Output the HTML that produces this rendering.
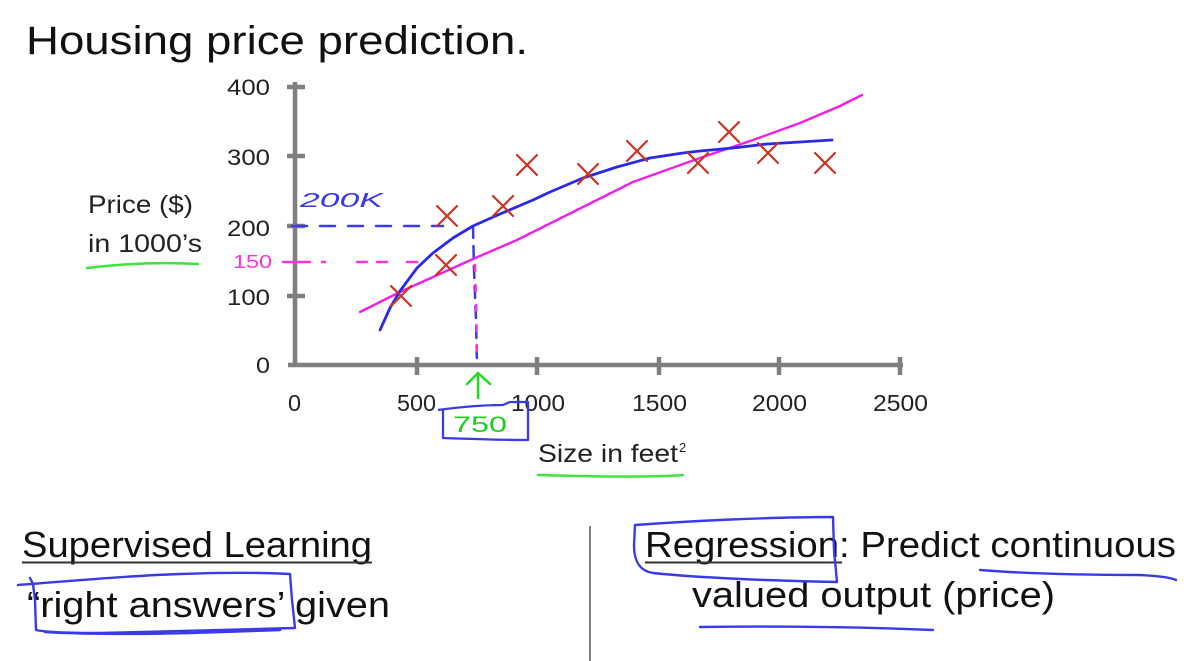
<!DOCTYPE html>
<html><head><meta charset="utf-8"><style>
html,body{margin:0;padding:0;background:#fff;}
svg{display:block;}
text{font-family:"Liberation Sans",sans-serif;}
</style></head><body>
<svg width="1198" height="661" viewBox="0 0 1198 661" xmlns="http://www.w3.org/2000/svg">
<rect width="1198" height="661" fill="#fff"/>
<!-- Title -->
<text x="26" y="54" font-size="40" fill="#111" textLength="502" lengthAdjust="spacingAndGlyphs">Housing price prediction.</text>

<!-- Axes -->
<g stroke="#7f7f7f" stroke-width="4.5" fill="none">
  <line x1="295" y1="82" x2="295" y2="367"/>
  <line x1="288" y1="365" x2="903" y2="365"/>
  <line x1="287" y1="87" x2="305" y2="87"/>
  <line x1="287" y1="156" x2="305" y2="156"/>
  <line x1="287" y1="226" x2="305" y2="226"/>
  <line x1="287" y1="296" x2="305" y2="296"/>
  <line x1="417" y1="357" x2="417" y2="375"/>
  <line x1="537" y1="357" x2="537" y2="375"/>
  <line x1="659" y1="357" x2="659" y2="375"/>
  <line x1="779" y1="357" x2="779" y2="375"/>
  <line x1="900" y1="357" x2="900" y2="375"/>
</g>

<!-- Y tick labels -->
<g font-size="22" fill="#222">
  <text x="227" y="95" textLength="43" lengthAdjust="spacingAndGlyphs">400</text>
  <text x="227" y="165" textLength="43" lengthAdjust="spacingAndGlyphs">300</text>
  <text x="227" y="236" textLength="43" lengthAdjust="spacingAndGlyphs">200</text>
  <text x="227" y="305" textLength="43" lengthAdjust="spacingAndGlyphs">100</text>
  <text x="256" y="373" textLength="14" lengthAdjust="spacingAndGlyphs">0</text>
</g>
<!-- X tick labels -->
<g font-size="23" fill="#222">
  <text x="288" y="411" textLength="13" lengthAdjust="spacingAndGlyphs">0</text>
  <text x="397" y="411" textLength="39" lengthAdjust="spacingAndGlyphs">500</text>
  <text x="511" y="411" textLength="54" lengthAdjust="spacingAndGlyphs">1000</text>
  <text x="632" y="411" textLength="55" lengthAdjust="spacingAndGlyphs">1500</text>
  <text x="752" y="411" textLength="55" lengthAdjust="spacingAndGlyphs">2000</text>
  <text x="873" y="411" textLength="55" lengthAdjust="spacingAndGlyphs">2500</text>
</g>

<!-- Axis titles -->
<text x="88" y="213" font-size="25" fill="#222" textLength="105" lengthAdjust="spacingAndGlyphs">Price ($)</text>
<text x="88" y="252" font-size="25" fill="#222" textLength="114" lengthAdjust="spacingAndGlyphs">in 1000’s</text>
<path d="M87,268 C120,264 160,262 198,264" stroke="#3ee33e" stroke-width="2.5" fill="none" stroke-linecap="round"/>

<text x="538" y="462" font-size="25" fill="#222" textLength="140" lengthAdjust="spacingAndGlyphs">Size in feet</text>
<text x="679" y="452" font-size="13" fill="#222">2</text>
<path d="M538,475 C580,476 640,478 683,475" stroke="#3ee33e" stroke-width="2.5" fill="none" stroke-linecap="round"/>

<!-- Dashed guides -->
<g stroke="#3a3ae8" stroke-width="2.5" fill="none" stroke-linecap="round">
  <line x1="292" y1="226" x2="443" y2="226" stroke-dasharray="15 13"/>
  <path d="M473,226 L474,270 L476,320 L477,365" stroke-dasharray="12 8"/>
</g>
<g stroke="#ff33dd" stroke-width="2.5" fill="none" stroke-linecap="round">
  <line x1="283" y1="262" x2="310" y2="262"/>
  <line x1="322" y1="262" x2="325" y2="262"/>
  <line x1="357" y1="262" x2="367" y2="262"/>
  <line x1="377" y1="262" x2="387" y2="262"/>
  <line x1="407" y1="262" x2="417" y2="262"/>
  <path d="M475,265 L476,300 L477,360" stroke-dasharray="6 14"/>
</g>
<text x="300" y="207" font-size="20" fill="#3a3ae8" font-style="italic" textLength="83" lengthAdjust="spacingAndGlyphs">200K</text>
<text x="233" y="268" font-size="18" fill="#ff33dd" textLength="39" lengthAdjust="spacingAndGlyphs">150</text>

<!-- Fit curves -->
<polyline points="360,312 400,292 433,277 473,259 517,240 577,210 633,182 700,158 753,140 800,123 840,106 862,95" fill="none" stroke="#f020e8" stroke-width="2.4" stroke-linejoin="round" stroke-linecap="round"/>
<polyline points="380,330 390,308 400,291 417,268 433,253 453,238 473,226 500,214 533,200 550,192 583,178 617,167 650,158 683,153 700,151 733,148 767,144 800,142 832,140" fill="none" stroke="#2a2ae6" stroke-width="2.8" stroke-linejoin="round" stroke-linecap="round"/>

<!-- Data crosses -->
<g stroke="#cc3322" stroke-width="2.2" stroke-linecap="round">
  <path d="M391,286 L411,306 M411,286 L391,306"/>
  <path d="M436,255 L456,275 M456,255 L436,275"/>
  <path d="M437,206 L457,226 M457,206 L437,226"/>
  <path d="M493,196 L513,216 M513,196 L493,216"/>
  <path d="M517,155 L537,175 M537,155 L517,175"/>
  <path d="M578,164 L598,184 M598,164 L578,184"/>
  <path d="M627,141 L647,161 M647,141 L627,161"/>
  <path d="M688,153 L708,173 M708,153 L688,173"/>
  <path d="M719,122 L739,142 M739,122 L719,142"/>
  <path d="M758,143 L778,163 M778,143 L758,163"/>
  <path d="M815,153 L835,173 M835,153 L815,173"/>
</g>

<!-- Green arrow and 750 box -->
<g stroke="#22dd22" stroke-width="2.5" fill="none" stroke-linecap="round" stroke-linejoin="round">
  <line x1="478" y1="374" x2="478" y2="398"/>
  <path d="M467,384 L478,373 L490,384"/>
</g>
<path d="M438,410 C460,407 485,405 503,405 L510,402 L528,402 L528,440 C500,440 470,439 443,438 L443,410" fill="none" stroke="#3a3ae8" stroke-width="2.3" stroke-linejoin="round"/>
<text x="453" y="432" font-size="22" fill="#22cc22" textLength="54" lengthAdjust="spacingAndGlyphs">750</text>

<!-- Bottom text -->
<text x="22" y="557" font-size="36" fill="#111" textLength="350" lengthAdjust="spacingAndGlyphs">Supervised Learning</text>
<line x1="22" y1="562.5" x2="372" y2="562.5" stroke="#333" stroke-width="2"/>
<text x="27" y="617" font-size="36" fill="#111" textLength="363" lengthAdjust="spacingAndGlyphs">“right answers’ given</text>

<line x1="590" y1="526" x2="590" y2="661" stroke="#555" stroke-width="1.5"/>

<text x="645" y="557" font-size="36" fill="#111" textLength="531" lengthAdjust="spacingAndGlyphs">Regression: Predict continuous</text>
<line x1="645" y1="562.5" x2="842" y2="562.5" stroke="#333" stroke-width="2"/>
<text x="692" y="607" font-size="36" fill="#111" textLength="363" lengthAdjust="spacingAndGlyphs">valued output (price)</text>

<!-- Blue annotations bottom -->
<g stroke="#3a3ae8" stroke-width="2.4" fill="none" stroke-linecap="round" stroke-linejoin="round">
  <path d="M18,585 C60,582 120,576 180,574 C230,572 270,573 290,574 L292,600 L295,628 C240,629 160,632 100,633 C70,633 45,632 36,630 L35,600 L33,584 L30,578"/>
  <path d="M45,632 C120,636 200,633 280,630"/>
  <path d="M635,525 C690,521 770,517 833,517 L834,550 L837,582 C780,581 700,578 653,573 C640,571 634,562 634,545 Z"/>
  <path d="M980,570 C1030,574 1100,575 1140,575 C1160,576 1172,578 1176,580"/>
  <path d="M700,627 C780,626 860,627 933,630"/>
</g>
</svg>
</body></html>
